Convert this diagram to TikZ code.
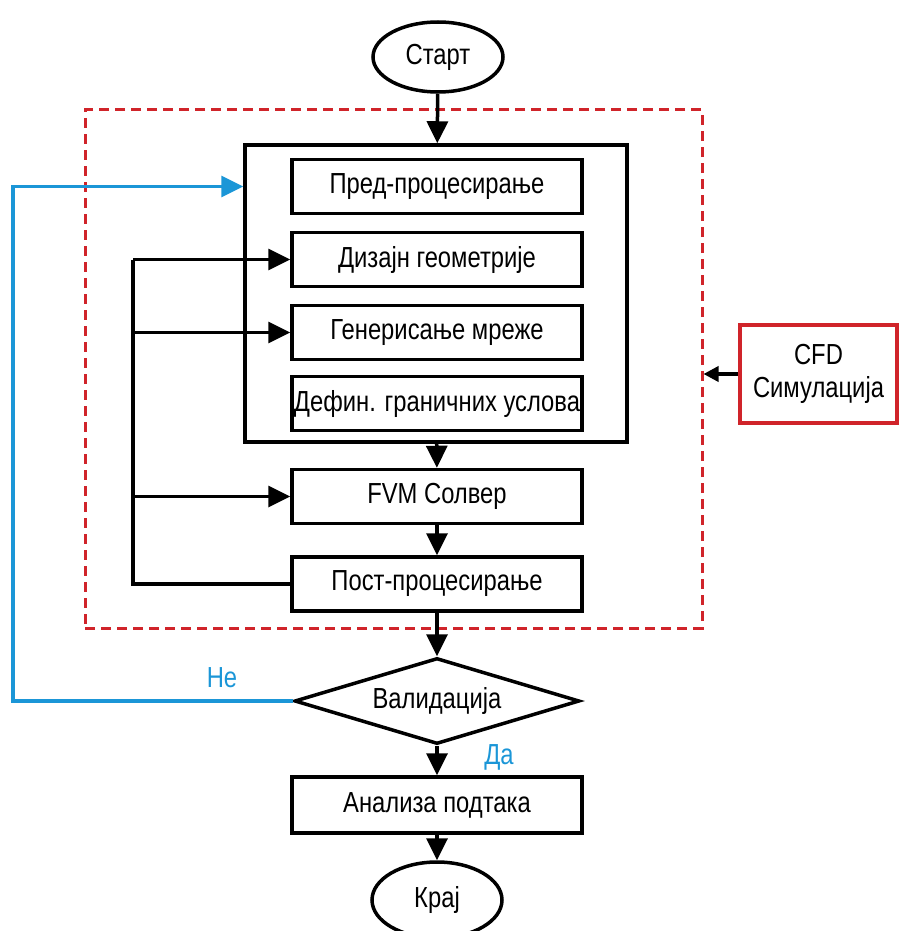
\documentclass[tikz,border=0pt]{standalone}
\usepackage{fontspec}
\setmainfont{Liberation Sans}[FakeStretch=0.82]
\usepackage{tikz}
\usetikzlibrary{arrows.meta,shapes.geometric}
\definecolor{cfdred}{RGB}{208,36,42}
\definecolor{loopblue}{RGB}{27,150,215}

\begin{document}
\begin{tikzpicture}[x=1pt,y=-1pt,
  every node/.style={font=\fontsize{29}{33}\selectfont},
  flow/.style={line width=3.5pt,-{Triangle[length=22pt,width=21pt]}},
  stepbox/.style={draw,line width=3.5pt,minimum width=290pt,minimum height=54pt,inner sep=0pt},
  term/.style={draw,ellipse,line width=3.5pt,minimum width=130pt,minimum height=70pt,inner sep=0pt}]
\useasboundingbox (0,0) rectangle (899,931);
\node[draw=cfdred,dash pattern=on 10pt off 6pt,line width=3pt,minimum width=617pt,minimum height=518pt] (sim) at (393.5,369) {};
\node[draw,line width=3.5pt,minimum width=382pt,minimum height=297pt] (pre) at (436,293.5) {};
\node[term] (start) at (438,57) {Старт};
\node[stepbox] (b1) at (437,186.5) {Пред-процесирање};
\node[stepbox] (b2) at (437,259.5) {Дизајн геометрије};
\node[stepbox] (b3) at (437,332.5) {Генерисање мреже};
\node[stepbox] (b4) at (437,403.5) {Дефин. граничних услова};
\node[stepbox] (fvm) at (437,496.5) {FVM Солвер};
\node[stepbox] (post) at (437,584) {Пост-процесирање};
\node[draw,diamond,shape aspect=3.3,line width=3.5pt,minimum width=285pt,minimum height=86pt,inner sep=0pt] (val) at (437,701) {Валидација};
\node[stepbox,minimum height=56pt] (ana) at (437,805) {Анализа подтака};
\node[term,minimum height=76pt] (end) at (437,900) {Крај};
\node[draw=cfdred,line width=3.5pt,minimum width=157pt,minimum height=98pt,align=center,inner sep=0pt] (cfd) at (818.5,374) {CFD\\Симулација};
\coordinate (lx) at (133,0);
\coordinate (bx) at (13,0);
\draw[flow] (start) -- (pre);
\draw[flow] (pre) -- (fvm);
\draw[flow] (fvm) -- (post);
\draw[flow] (post) -- (val);
\draw[flow] (val) -- (ana);
\draw[flow] (ana) -- (end);
\draw[line width=3.5pt,-{Triangle[length=15pt,width=15pt]}] (cfd) -- (cfd.west -| sim.east);
\draw[line width=3.5pt] (post.west) -- (post.west -| lx) -- (b2.west -| lx);
\draw[flow] (b2.west -| lx) -- (b2.west);
\draw[flow] (b3.west -| lx) -- (b3.west);
\draw[flow] (fvm.west -| lx) -- (fvm.west);
\draw[flow,loopblue] (val.west) -- (val.west -| bx) -- (b1.west -| bx) -- (b1.west -| pre.west);
\node[text=loopblue] (no) at (222,678) {Не};
\node[text=loopblue] (yes) at (499,757) {Да};
\end{tikzpicture}
\end{document}
